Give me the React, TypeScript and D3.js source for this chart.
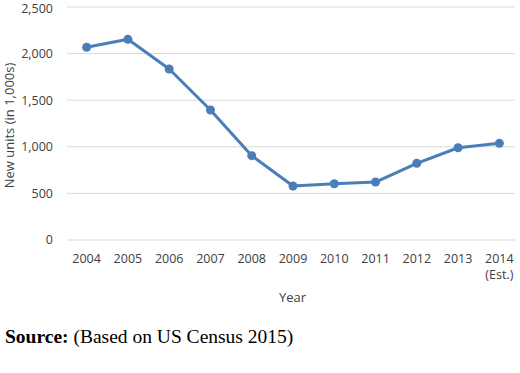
import React from "react";
import * as d3 from "d3";

const years = ["2004", "2005", "2006", "2007", "2008", "2009", "2010", "2011", "2012", "2013", "2014"];
const yearSublabels = ["", "", "", "", "", "", "", "", "", "", "(Est.)"];
const newUnits = [2068, 2153, 1835, 1395, 905, 579, 604, 622, 823, 990, 1037];
const yTicks = [0, 500, 1000, 1500, 2000, 2500];

const W = 520;
const H = 373;
const left = 66;
const right = 520;
const top = 7;
const bottom = 240;
const font = "'Open Sans', sans-serif";

export default function App() {
  const x = d3.scaleBand<string>().domain(years).range([left, right]);
  const y = d3.scaleLinear().domain([0, 2500]).range([bottom, top]);
  const cx = (d: string) => (x(d) as number) + x.bandwidth() / 2;
  const line = d3
    .line<number>()
    .x((_, i) => cx(years[i]))
    .y((v) => y(v));
  const fmt = d3.format(",");

  return (
    <svg
      width={W}
      height={H}
      style={{ position: "absolute", left: 0, top: 0, background: "#fff" }}
    >
      {yTicks.map((t) => (
        <g key={t}>
          <line x1={left + 1} x2={515} y1={y(t)} y2={y(t)} stroke="#d9d9d9" strokeWidth={1} />
          <text
            x={53}
            y={Math.max(y(t), 9)}
            dy="0.35em"
            textAnchor="end"
            fontFamily={font}
            fontSize={12.5}
            fill="#404040"
          >
            {fmt(t)}
          </text>
        </g>
      ))}
      {years.map((yr, i) => (
        <g key={yr}>
          <text x={cx(yr)} y={263} textAnchor="middle" fontFamily={font} fontSize={12.5} fill="#404040">
            {yr}
          </text>
          {yearSublabels[i] && (
            <text x={cx(yr)} y={279} textAnchor="middle" fontFamily={font} fontSize={12.5} fill="#404040">
              {yearSublabels[i]}
            </text>
          )}
        </g>
      ))}
      <text x={(left + 515) / 2 + 2} y={302} textAnchor="middle" fontFamily={font} fontSize={13} fill="#404040">
        Year
      </text>
      <text
        transform={`translate(14,${(top + bottom) / 2 + 2}) rotate(-90)`}
        textAnchor="middle"
        fontFamily={font}
        fontSize={13}
        fill="#404040"
      >
        New units (in 1,000s)
      </text>
      <path d={line(newUnits) || ""} fill="none" stroke="#4a7ebb" strokeWidth={3} strokeLinejoin="round" />
      {newUnits.map((v, i) => (
        <circle key={i} cx={cx(years[i])} cy={y(v)} r={4.5} fill="#4a7ebb" />
      ))}
      <text x={5} y={343} fontFamily="'Liberation Serif', 'Times New Roman', serif" fontSize={19.5} fill="#000">
        <tspan fontWeight="bold">Source:</tspan>
        <tspan> (Based on US Census 2015)</tspan>
      </text>
    </svg>
  );
}
